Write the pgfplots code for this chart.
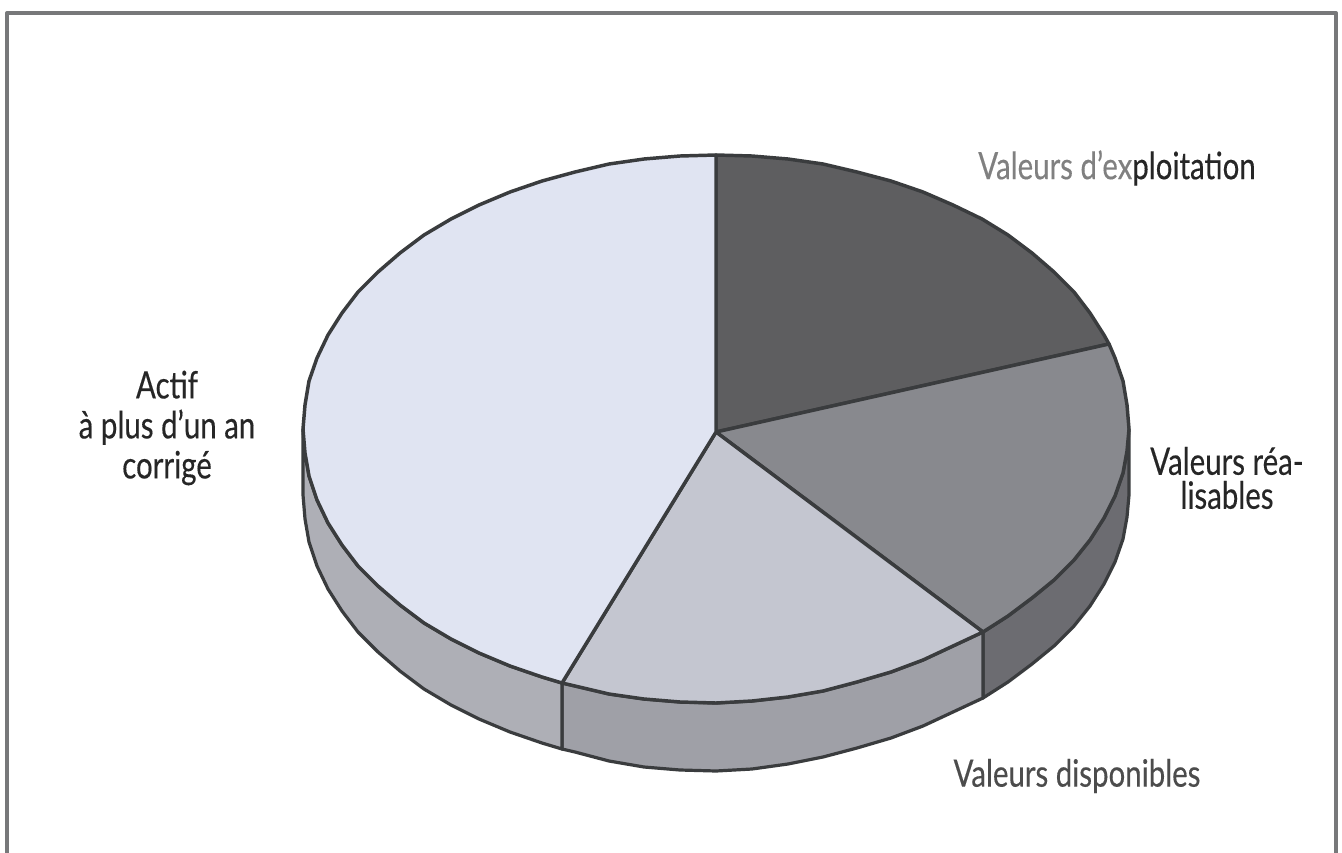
\documentclass[border=0pt]{standalone}
\usepackage{fontspec}
\usepackage{pgfplots}
\pgfplotsset{compat=1.18}
\setmainfont[FakeStretch=0.78,FakeBold=0.3]{Lato}
\definecolor{contour}{HTML}{3A3C3E}
\definecolor{cadre}{HTML}{77787A}
\definecolor{expl}{HTML}{5E5E60}
\definecolor{real}{HTML}{88898E}
\definecolor{disp}{HTML}{C4C6D0}
\definecolor{actif}{HTML}{E0E4F2}
\definecolor{cotereal}{HTML}{6C6C71}
\definecolor{cotedisp}{HTML}{9FA0A7}
\definecolor{coteactif}{HTML}{AEAFB6}
\tikzset{lbl/.style={font=\fontsize{28.3}{30}\selectfont, align=center, inner sep=0pt}}
\begin{document}
\begin{tikzpicture}
\begin{axis}[
    scale only axis,
    width=1006.5pt,
    height=639.75pt,
    xmin=0, xmax=1342,
    ymin=0, ymax=853,
    y dir=reverse,
    axis lines=none,
    tick=none,
    every axis plot/.append style={line join=round, mark=none},
]
% fond, donne aussi la taille de la page
\addplot[fill=white, draw=none] coordinates {(0,0) (1342,0) (1342,853) (0,853)} --cycle;
% cadre
\addplot[draw=cadre, line width=3pt] coordinates {(7,853) (7,13) (1336,13) (1336,853)};

% flanc droit
\addplot[fill=cotereal, draw=contour, line width=2.4pt] coordinates {
    (1129,429) (1127,451) (1123,473) (1115,496) (1104,518) (1090,540) (1074,560)
    (1054,580) (1032,598) (1008,616) (983,632)
    (983,698) (1008,682) (1032,664) (1054,646) (1074,626) (1090,606) (1104,584)
    (1115,562) (1123,539) (1127,517) (1129,495)} --cycle;
% flanc avant
\addplot[fill=cotedisp, draw=contour, line width=2.4pt] coordinates {
    (983,632) (953,646) (923,660) (891,672) (857,682) (823,691) (788,697) (752,701)
    (716,703) (680,702) (644,699) (609,694) (575,686) (562,683)
    (562,749) (575,752) (609,761) (644,767) (680,770) (716,771) (752,769) (788,764)
    (823,757) (857,748) (891,738) (923,726) (953,712) (983,698)} --cycle;
% flanc gauche
\addplot[fill=coteactif, draw=contour, line width=2.4pt] coordinates {
    (562,683) (542,677) (510,666) (479,653) (451,639) (424,623) (400,605) (378,586)
    (358,566) (342,545) (328,523) (317,500) (309,476) (305,453) (303,429)
    (303,495) (305,519) (309,542) (317,566) (328,589) (342,611) (358,632) (378,652)
    (400,671) (424,689) (451,705) (479,719) (510,732) (542,743) (562,749)} --cycle;

% Valeurs d'exploitation
\addplot[fill=expl, draw=contour, line width=2.6pt] coordinates {
    (716,432) (716,155) (752,156) (788,159) (823,164) (857,172) (891,181) (923,192)
    (953,205) (982,219) (1008,235) (1032,253) (1054,272) (1074,292) (1090,313)
    (1104,335) (1109,344)} --cycle;
% Valeurs realisables
\addplot[fill=real, draw=contour, line width=2.6pt] coordinates {
    (716,432) (1109,344) (1115,358) (1123,381) (1127,405) (1129,429) (1127,451)
    (1123,473) (1115,496) (1104,518) (1090,540) (1074,560) (1054,580) (1032,598)
    (1008,616) (983,632)} --cycle;
% Valeurs disponibles
\addplot[fill=disp, draw=contour, line width=2.6pt] coordinates {
    (716,432) (983,632) (953,646) (923,660) (891,672) (857,682) (823,691) (788,697)
    (752,701) (716,703) (680,702) (644,699) (609,694) (575,686) (562,683)} --cycle;
% Actif a plus d'un an corrige
\addplot[fill=actif, draw=contour, line width=2.6pt] coordinates {
    (716,432) (562,683) (542,677) (510,666) (479,653) (451,639) (424,623) (400,605)
    (378,586) (358,566) (342,545) (328,523) (317,500) (309,476) (305,453) (303,429)
    (305,405) (309,381) (317,358) (328,335) (342,313) (358,292) (378,272) (400,253)
    (424,235) (451,219) (479,205) (510,192) (542,181) (575,172) (609,164) (644,159)
    (680,156) (716,155)} --cycle;

\node[lbl, text=black!50] at (axis cs:1117,168) {Valeurs d'ex\textcolor{black!85}{ploitation}};
\node[lbl, text=black!85] at (axis cs:1227,478) {Valeurs réa-\\[-4.5pt]lisables};
\node[lbl, text=black!70] at (axis cs:1077,776) {Valeurs disponibles};
\node[lbl, text=black!85] at (axis cs:167,428) {Actif\\à plus d'un an\\corrigé};
\end{axis}
\end{tikzpicture}
\end{document}
